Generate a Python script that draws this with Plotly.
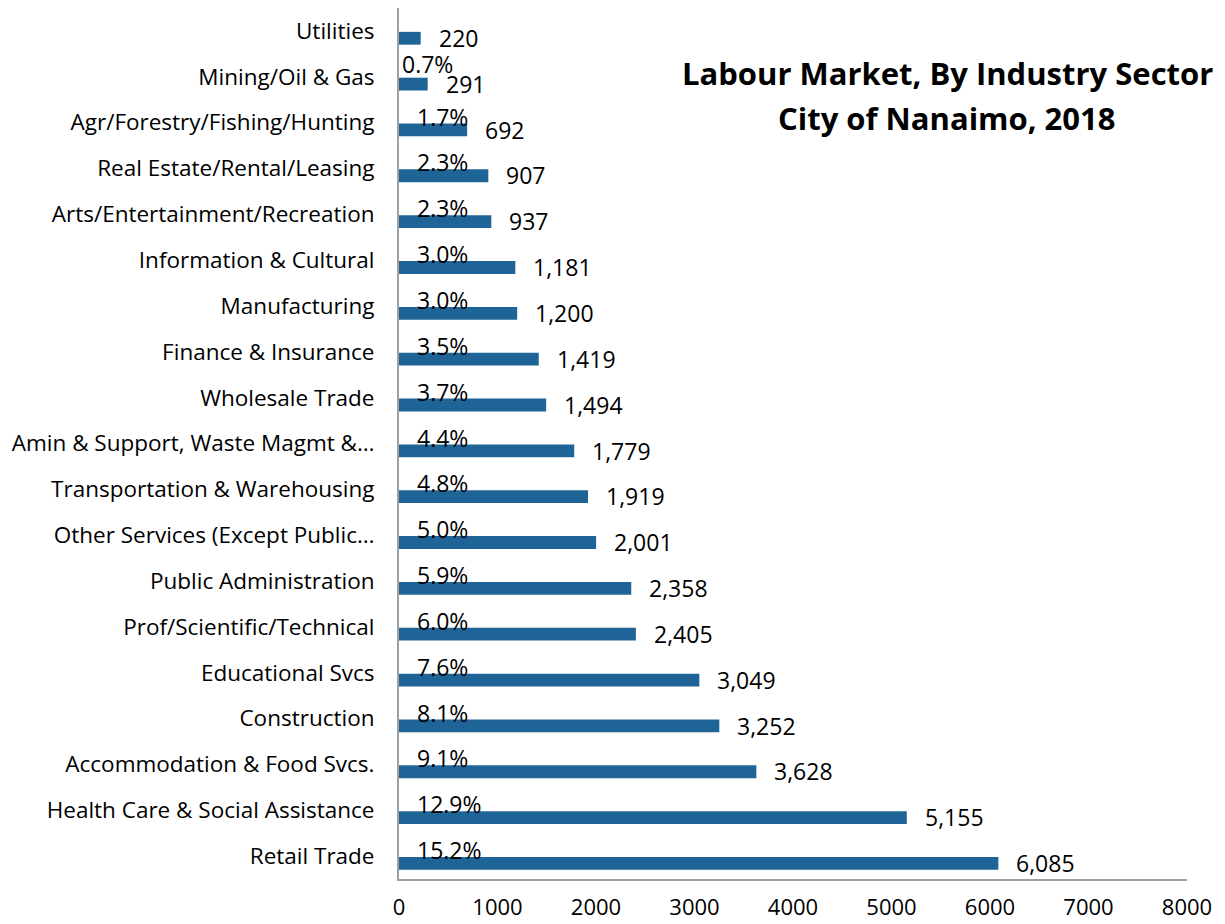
import plotly.graph_objects as go

# Categories listed from bottom (Retail Trade) to top (Utilities)
categories = [
    "Retail Trade",
    "Health Care & Social Assistance",
    "Accommodation & Food Svcs.",
    "Construction",
    "Educational Svcs",
    "Prof/Scientific/Technical",
    "Public Administration",
    "Other Services (Except Public…",
    "Transportation & Warehousing",
    "Amin & Support, Waste Magmt &…",
    "Wholesale Trade",
    "Finance & Insurance",
    "Manufacturing",
    "Information & Cultural",
    "Arts/Entertainment/Recreation",
    "Real Estate/Rental/Leasing",
    "Agr/Forestry/Fishing/Hunting",
    "Mining/Oil & Gas",
    "Utilities",
]
workers = [6085, 5155, 3628, 3252, 3049, 2405, 2358, 2001, 1919, 1779,
           1494, 1419, 1200, 1181, 937, 907, 692, 291, 220]
share_labels = ["15.2%", "12.9%", "9.1%", "8.1%", "7.6%", "6.0%", "5.9%", "5.0%",
                "4.8%", "4.4%", "3.7%", "3.5%", "3.0%", "3.0%", "2.3%", "2.3%",
                "1.7%", "0.7%", None]
x_ticks = [0, 1000, 2000, 3000, 4000, 5000, 6000, 7000, 8000]
title_lines = ["Labour Market, By Industry Sector", "City of Nanaimo, 2018"]

BAR = "#1F6497"
FONT = "Open Sans, Lato, sans-serif"
FS = 23
W, H = 1217, 916
L, R, T, B = 391, 38, 0, 45
plot_h = H - T - B

fig = go.Figure()
fig.add_trace(go.Bar(
    y=categories, x=workers, orientation="h",
    marker=dict(color=BAR, line=dict(width=0)),
    width=0.28, offset=-0.30,
    hoverinfo="x+y",
))

annotations = []
for cat, v in zip(categories, workers):
    annotations.append(dict(
        x=v, y=cat, xref="x", yref="y", text=f"{v:,}", showarrow=False,
        xanchor="left", yanchor="middle", xshift=16, yshift=-7,
        font=dict(family=FONT, size=FS, color="#000000"),
    ))
for cat, s in zip(categories, share_labels):
    if s is None:
        continue
    small = s == "0.7%"
    annotations.append(dict(
        x=0, y=cat, xref="x", yref="y", text=s, showarrow=False,
        xanchor="left", yanchor="middle",
        xshift=1 if small else 16, yshift=13 if small else 6,
        font=dict(family=FONT, size=FS, color="#000000"),
    ))
for line, py in zip(title_lines, [65, 110]):
    annotations.append(dict(
        x=0.6957, y=1 - (py - T) / plot_h, xref="paper", yref="paper",
        showarrow=False, text=f"<b>{line}</b>",
        xanchor="center", yanchor="middle",
        font=dict(family=FONT, size=31, color="#000000"),
    ))

fig.update_layout(
    width=W, height=H,
    margin=dict(l=L, r=R, t=T, b=B, pad=0),
    paper_bgcolor="white", plot_bgcolor="white",
    showlegend=False,
    annotations=annotations,
    font=dict(family=FONT, size=FS, color="#000000"),
    xaxis=dict(
        range=[0, 8000], tickvals=x_ticks, ticktext=[str(t) for t in x_ticks],
        showgrid=False, zeroline=False, showline=True, linecolor="#A0A0A0",
        linewidth=2, ticks="", ticklabelstandoff=8, automargin=False,
        tickfont=dict(family=FONT, size=22, color="#000000"),
    ),
    yaxis=dict(
        type="category", categoryorder="array", categoryarray=categories,
        range=[-0.5, 18.5],
        showgrid=False, zeroline=False, showline=True, linecolor="#A0A0A0",
        linewidth=2, ticks="", ticklabelstandoff=18, automargin=False,
        tickfont=dict(family=FONT, size=22.5, color="#000000"),
    ),
)

fig.write_html("out.html")
